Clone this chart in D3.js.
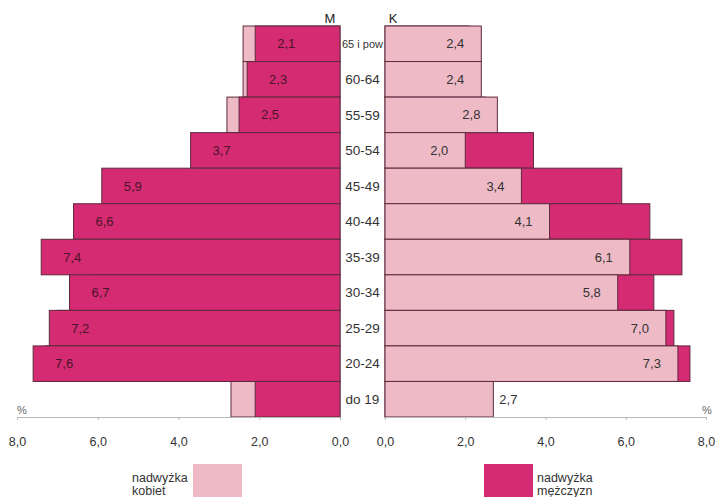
<!DOCTYPE html>
<html>
<head>
<meta charset="utf-8">
<script src="https://cdn.jsdelivr.net/npm/d3@7"></script>
<style>
  html, body { margin: 0; padding: 0; background: #fff; }
  svg { display: block; font-family: "Liberation Sans", Arial, sans-serif; }
</style>
</head>
<body>
<svg id="chart" width="716" height="497"></svg>
<script>
// Age groups, top to bottom
const ageGroups = ["65 i pow", "60-64", "55-59", "50-54", "45-49", "40-44", "35-39", "30-34", "25-29", "20-24", "do 19"];
// Share of men (M) and women (K) in each age group, %
const menValues   = [2.1, 2.3, 2.5, 3.7, 5.9, 6.6, 7.4, 6.7, 7.2, 7.6, 2.1];
const womenValues = [2.4, 2.4, 2.8, 2.0, 3.4, 4.1, 6.1, 5.8, 7.0, 7.3, 2.7];
// Groups whose value is not printed on the men's side
const menUnlabeled = ["do 19"];
// Groups whose women's value is printed past the end of the bar
const womenOutsideLabel = ["do 19"];
const axisTicks = [0, 2, 4, 6, 8];
const legendItems = [
  { lines: ["nadwyżka", "kobiet"], kind: "women" },
  { lines: ["nadwyżka", "mężczyzn"], kind: "men" }
];

const COLOR_MEN = "#d52b72";
const COLOR_WOMEN = "#eebac6";
const STROKE = "#5e2a3e";

const svg = d3.select("#chart");
const rows = ageGroups.map((age, i) => ({ age, men: menValues[i], women: womenValues[i] }));

const xLeft = d3.scaleLinear().domain([0, 8]).range([340, 17]);
const xRight = d3.scaleLinear().domain([0, 8]).range([385, 706]);
const y = d3.scaleBand().domain(ageGroups).range([26, 417]).padding(0);

const fmt = v => v.toFixed(1).replace(".", ",");

// Left half: women's extent underneath, men's bar on top
const left = svg.append("g");
left.selectAll("rect.w").data(rows).join("rect")
  .attr("x", d => xLeft(d.women)).attr("y", d => y(d.age))
  .attr("width", d => xLeft(0) - xLeft(d.women)).attr("height", y.bandwidth())
  .attr("fill", COLOR_WOMEN).attr("stroke", STROKE).attr("stroke-width", 1);
left.selectAll("rect.m").data(rows).join("rect")
  .attr("x", d => xLeft(d.men)).attr("y", d => y(d.age))
  .attr("width", d => xLeft(0) - xLeft(d.men)).attr("height", y.bandwidth())
  .attr("fill", COLOR_MEN).attr("stroke", STROKE).attr("stroke-width", 1);

// Right half: men's extent underneath, women's bar on top
const right = svg.append("g");
right.selectAll("rect.m").data(rows).join("rect")
  .attr("x", xRight(0)).attr("y", d => y(d.age))
  .attr("width", d => xRight(d.men) - xRight(0)).attr("height", y.bandwidth())
  .attr("fill", COLOR_MEN).attr("stroke", STROKE).attr("stroke-width", 1);
right.selectAll("rect.w").data(rows).join("rect")
  .attr("x", xRight(0)).attr("y", d => y(d.age))
  .attr("width", d => xRight(d.women) - xRight(0)).attr("height", y.bandwidth())
  .attr("fill", COLOR_WOMEN).attr("stroke", STROKE).attr("stroke-width", 1);

// Value labels
svg.append("g").selectAll("text")
  .data(rows.filter(d => !menUnlabeled.includes(d.age))).join("text")
  .attr("x", d => xLeft(d.men) + 31)
  .attr("y", d => y(d.age) + y.bandwidth() / 2)
  .attr("dy", "0.35em").attr("text-anchor", "middle")
  .attr("font-size", 13).attr("fill", "#4a1428")
  .text(d => fmt(d.men));

svg.append("g").selectAll("text").data(rows).join("text")
  .attr("x", d => womenOutsideLabel.includes(d.age) ? xRight(d.women) + 15 : xRight(d.women) - 26)
  .attr("y", d => y(d.age) + y.bandwidth() / 2)
  .attr("dy", "0.35em").attr("text-anchor", "middle")
  .attr("font-size", 13).attr("fill", "#333")
  .text(d => fmt(d.women));

// Age group labels in the centre column
svg.append("g").selectAll("text").data(ageGroups).join("text")
  .attr("x", 362.5)
  .attr("y", d => y(d) + y.bandwidth() / 2)
  .attr("dy", "0.35em").attr("text-anchor", "middle")
  .attr("font-size", (d, i) => i === 0 ? 11 : 13.5)
  .attr("fill", "#333")
  .text(d => d);

// Sex headers
svg.append("text").attr("x", 330).attr("y", 23).attr("text-anchor", "middle")
  .attr("font-size", 13).attr("fill", "#222").text("M");
svg.append("text").attr("x", 393).attr("y", 23).attr("text-anchor", "middle")
  .attr("font-size", 13).attr("fill", "#222").text("K");

// Axes
function styleAxis(g) {
  g.select(".domain").attr("stroke", "#b8b8b8");
  g.selectAll(".tick line").attr("stroke", "#b8b8b8");
  g.selectAll(".tick text").attr("font-size", 12.5).attr("fill", "#333")
    .attr("font-family", "Liberation Sans, Arial, sans-serif");
}
const axisY = 417;
svg.append("g").attr("transform", `translate(0,${axisY})`)
  .call(d3.axisBottom(xLeft).tickValues(axisTicks).tickFormat(fmt).tickSizeInner(3).tickSizeOuter(0).tickPadding(17))
  .call(styleAxis);
svg.append("g").attr("transform", `translate(0,${axisY})`)
  .call(d3.axisBottom(xRight).tickValues(axisTicks).tickFormat(fmt).tickSizeInner(3).tickSizeOuter(0).tickPadding(17))
  .call(styleAxis);

svg.append("text").attr("x", 22).attr("y", 414).attr("text-anchor", "middle")
  .attr("font-size", 11).attr("fill", "#666").text("%");
svg.append("text").attr("x", 707).attr("y", 414).attr("text-anchor", "middle")
  .attr("font-size", 11).attr("fill", "#666").text("%");

// Legend
const legendLayout = [
  { boxX: 193, textX: 132 },
  { boxX: 484, textX: 537 }
];
legendItems.forEach((item, i) => {
  const pos = legendLayout[i];
  svg.append("rect").attr("x", pos.boxX).attr("y", 464).attr("width", 49).attr("height", 40)
    .attr("fill", item.kind === "women" ? COLOR_WOMEN : COLOR_MEN);
  const t = svg.append("text").attr("x", pos.textX).attr("y", 482)
    .attr("font-size", 12.5).attr("fill", "#333");
  item.lines.forEach((line, j) => {
    t.append("tspan").attr("x", pos.textX).attr("dy", j === 0 ? 0 : 13).text(line);
  });
});
</script>
</body>
</html>
